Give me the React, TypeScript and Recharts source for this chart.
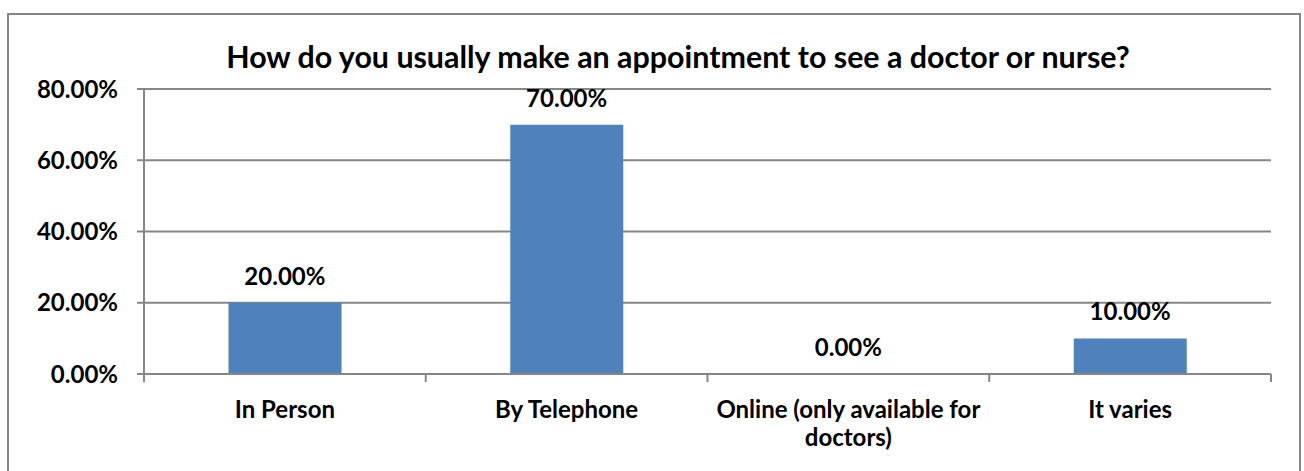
import { ComposedChart, Bar, Line, XAxis, YAxis, CartesianGrid, LabelList } from 'recharts'

const categories = ['In Person', 'By Telephone', 'Online (only available for doctors)', 'It varies']
// how each category label wraps under the axis
const categoryLines = [['In Person'], ['By Telephone'], ['Online (only available for', 'doctors)'], ['It varies']]
const shares = [20, 70, 0, 10]
const yTicks = [0, 20, 40, 60, 80]

const data = categories.map((name, i) => ({ name, value: shares[i] }))

const FONT = 'Lato, Carlito, Calibri, sans-serif'
const GRAY = '#868686'

const pct = (v: number) => `${v.toFixed(2)}%`

// category label plus the boundary tick marks (Excel puts them between categories)
const CategoryTick = (props: any) => {
  const { x, y, payload, index, visibleTicksCount } = props
  const half = payload.offset || 0
  const isLast = index === visibleTicksCount - 1
  const lines = categoryLines[index] || [payload.value]
  return (
    <g>
      <line x1={x - half} x2={x - half} y1={y - 8} y2={y} stroke={GRAY} strokeWidth={2} />
      {isLast && <line x1={x + half} x2={x + half} y1={y - 8} y2={y} stroke={GRAY} strokeWidth={2} />}
      <text x={x} y={y} textAnchor="middle" fontFamily={FONT} fontWeight="bold" fontSize={24} fill="#000">
        {lines.map((l: string, i: number) => (
          <tspan key={i} x={x} dy={i === 0 ? 36 : 28}>
            {l}
          </tspan>
        ))}
      </text>
    </g>
  )
}

const App = () => {
  return (
    <div style={{ position: 'absolute', left: 0, top: 0, width: 1304, height: 471, background: '#fff', overflow: 'hidden' }}>
      <div
        style={{
          position: 'absolute',
          left: 7,
          top: 13,
          width: 1294,
          height: 480,
          border: `2px solid ${GRAY}`,
          boxSizing: 'border-box',
        }}
      />
      <div
        style={{
          position: 'absolute',
          left: 0,
          top: 38,
          width: 1356,
          textAlign: 'center',
          fontFamily: FONT,
          fontWeight: 'bold',
          fontSize: 30.4,
          lineHeight: '36px',
          color: '#000',
        }}
      >
        How do you usually make an appointment to see a doctor or nurse?
      </div>
      <div style={{ position: 'absolute', left: 0, top: 0 }}>
        <ComposedChart width={1304} height={471} data={data} barCategoryGap="30%" margin={{ top: 89, right: 33, bottom: 37, left: 44 }}>
          <CartesianGrid vertical={false} stroke={GRAY} strokeWidth={2} />
          <XAxis
            dataKey="name"
            height={60}
            axisLine={{ stroke: GRAY, strokeWidth: 2 }}
            tickLine={false}
            tick={<CategoryTick />}
            interval={0}
          />
          <YAxis
            width={100}
            domain={[0, 80]}
            ticks={yTicks}
            tickFormatter={pct}
            axisLine={{ stroke: GRAY, strokeWidth: 2 }}
            tickLine={{ stroke: GRAY, strokeWidth: 2 }}
            tickSize={7}
            tickMargin={19}
            tick={{ fontFamily: FONT, fontWeight: 'bold', fontSize: 24, fill: '#000' }}
          />
          <Bar dataKey="value" fill="#4F81BD" isAnimationActive={false} />
          {/* invisible series carrying the value labels, so the 0% bar gets one too */}
          <Line dataKey="value" stroke="none" dot={false} activeDot={false} legendType="none" isAnimationActive={false}>
            <LabelList
              dataKey="value"
              position="top"
              offset={18}
              formatter={(v: any) => pct(Number(v))}
              style={{ fontFamily: FONT, fontWeight: 'bold', fontSize: 24, fill: '#000' }}
            />
          </Line>
        </ComposedChart>
      </div>
    </div>
  )
}

export default App
